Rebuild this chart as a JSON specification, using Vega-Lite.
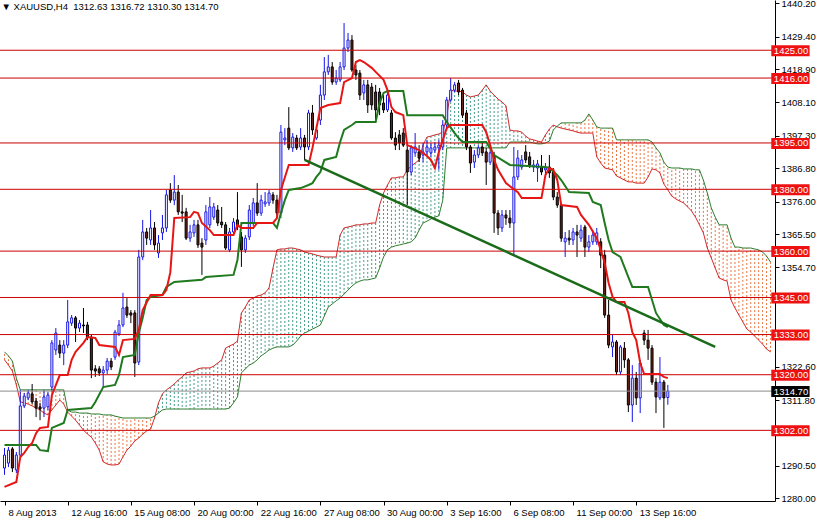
{
"$schema":"https://vega.github.io/schema/vega-lite/v6.json",
"width":775,"height":501,
"autosize":{"type":"none"},
"padding":{"left":0,"top":0,"right":41,"bottom":17},
"background":"white",
"title":{"text":"▼ XAUUSD,H4\u00a0\u00a01312.63 1316.72 1310.30 1314.70","anchor":"start","orient":"top","offset":-13,"fontSize":9.5,"fontWeight":"normal","font":"Liberation Sans","color":"#000000","dx":2},
"config":{"view":{"stroke":null},"axis":{"grid":false,"title":null,"labelFont":"Liberation Sans","labelFontSize":9.5,"labelColor":"#000000","tickColor":"#000000","domainColor":"#000000","tickSize":4}},
"datasets":{
"candles":[
{"i":0,"o":1289.8,"h":1296.3,"l":1287.6,"c":1294.0},{"i":1,"o":1291.4,"h":1296.6,"l":1290.1,"c":1295.6},{"i":2,"o":1296.0,"h":1296.6,"l":1288.5,"c":1289.8},{"i":3,"o":1289.2,"h":1295.0,"l":1288.2,"c":1294.0},{"i":4,"o":1294.0,"h":1315.1,"l":1293.4,"c":1309.9},{"i":5,"o":1309.9,"h":1314.1,"l":1309.2,"c":1313.1},{"i":6,"o":1312.5,"h":1315.1,"l":1311.8,"c":1314.1},{"i":7,"o":1313.8,"h":1317.0,"l":1310.5,"c":1311.2},{"i":8,"o":1311.5,"h":1312.5,"l":1306.3,"c":1309.2},{"i":9,"o":1309.6,"h":1310.9,"l":1305.3,"c":1308.9},
{"i":10,"o":1309.2,"h":1315.1,"l":1306.3,"c":1312.8},{"i":11,"o":1309.6,"h":1314.4,"l":1308.6,"c":1313.4},{"i":12,"o":1316.0,"h":1331.2,"l":1314.4,"c":1330.3},{"i":13,"o":1328.0,"h":1335.1,"l":1326.4,"c":1333.5},{"i":14,"o":1329.6,"h":1331.2,"l":1325.4,"c":1327.0},{"i":15,"o":1327.0,"h":1331.2,"l":1323.1,"c":1329.6},{"i":16,"o":1329.6,"h":1344.2,"l":1328.6,"c":1337.1},{"i":17,"o":1336.7,"h":1339.3,"l":1335.8,"c":1338.4},{"i":18,"o":1338.4,"h":1339.0,"l":1330.6,"c":1335.1},{"i":19,"o":1335.1,"h":1337.7,"l":1333.8,"c":1336.7},
{"i":20,"o":1336.1,"h":1341.6,"l":1333.5,"c":1335.8},{"i":21,"o":1336.1,"h":1337.1,"l":1331.2,"c":1332.2},{"i":22,"o":1332.2,"h":1332.9,"l":1318.9,"c":1321.5},{"i":23,"o":1321.9,"h":1323.1,"l":1319.3,"c":1321.2},{"i":24,"o":1321.9,"h":1322.8,"l":1319.6,"c":1320.6},{"i":25,"o":1320.6,"h":1322.8,"l":1316.0,"c":1321.5},{"i":26,"o":1321.5,"h":1325.4,"l":1320.2,"c":1324.4},{"i":27,"o":1324.4,"h":1325.4,"l":1321.5,"c":1322.5},{"i":28,"o":1325.7,"h":1334.5,"l":1324.8,"c":1333.8},{"i":29,"o":1333.2,"h":1337.7,"l":1332.5,"c":1336.1},
{"i":30,"o":1336.1,"h":1346.5,"l":1335.4,"c":1341.6},{"i":31,"o":1341.9,"h":1344.8,"l":1338.4,"c":1339.3},{"i":32,"o":1340.0,"h":1340.9,"l":1336.7,"c":1339.3},{"i":33,"o":1340.0,"h":1340.9,"l":1319.3,"c":1323.8},{"i":34,"o":1324.1,"h":1360.4,"l":1323.1,"c":1358.1},{"i":35,"o":1358.1,"h":1370.1,"l":1357.1,"c":1366.2},{"i":36,"o":1366.2,"h":1367.5,"l":1362.0,"c":1364.2},{"i":37,"o":1363.6,"h":1373.3,"l":1362.0,"c":1367.5},{"i":38,"o":1367.5,"h":1369.4,"l":1360.4,"c":1362.0},{"i":39,"o":1359.4,"h":1365.2,"l":1357.8,"c":1362.6},
{"i":40,"o":1365.9,"h":1371.7,"l":1363.6,"c":1367.5},{"i":41,"o":1367.5,"h":1379.8,"l":1366.2,"c":1378.2},{"i":42,"o":1379.8,"h":1382.0,"l":1375.6,"c":1376.5},{"i":43,"o":1376.5,"h":1384.6,"l":1374.9,"c":1379.1},{"i":44,"o":1379.1,"h":1381.4,"l":1371.7,"c":1372.7},{"i":45,"o":1372.7,"h":1378.2,"l":1369.4,"c":1372.3},{"i":46,"o":1372.7,"h":1374.0,"l":1363.6,"c":1364.2},{"i":47,"o":1364.2,"h":1368.5,"l":1363.0,"c":1366.2},{"i":48,"o":1365.9,"h":1370.1,"l":1364.6,"c":1368.5},{"i":49,"o":1368.5,"h":1370.1,"l":1361.0,"c":1362.0},
{"i":50,"o":1362.6,"h":1364.2,"l":1352.3,"c":1361.3},{"i":51,"o":1363.6,"h":1374.9,"l":1362.0,"c":1372.7},{"i":52,"o":1368.5,"h":1377.5,"l":1367.5,"c":1374.3},{"i":53,"o":1371.0,"h":1375.6,"l":1370.1,"c":1374.3},{"i":54,"o":1373.3,"h":1374.9,"l":1368.1,"c":1369.1},{"i":55,"o":1369.4,"h":1374.3,"l":1367.5,"c":1368.5},{"i":56,"o":1368.5,"h":1369.4,"l":1360.4,"c":1361.0},{"i":57,"o":1360.4,"h":1367.5,"l":1359.7,"c":1366.2},{"i":58,"o":1366.2,"h":1370.7,"l":1365.5,"c":1369.4},{"i":59,"o":1370.1,"h":1379.1,"l":1366.8,"c":1367.8},
{"i":60,"o":1364.6,"h":1366.2,"l":1354.9,"c":1360.4},{"i":61,"o":1360.4,"h":1365.2,"l":1359.4,"c":1364.2},{"i":62,"o":1364.6,"h":1374.9,"l":1363.6,"c":1373.3},{"i":63,"o":1369.1,"h":1377.2,"l":1368.1,"c":1375.6},{"i":64,"o":1375.6,"h":1382.0,"l":1371.4,"c":1372.3},{"i":65,"o":1372.3,"h":1378.2,"l":1371.4,"c":1376.5},{"i":66,"o":1375.3,"h":1379.1,"l":1374.3,"c":1375.9},{"i":67,"o":1375.6,"h":1379.8,"l":1374.6,"c":1378.8},{"i":68,"o":1378.2,"h":1379.1,"l":1375.3,"c":1376.5},{"i":69,"o":1376.5,"h":1378.2,"l":1370.7,"c":1372.3},
{"i":70,"o":1372.3,"h":1400.8,"l":1370.7,"c":1398.5},{"i":71,"o":1396.0,"h":1399.8,"l":1394.3,"c":1396.6},{"i":72,"o":1399.8,"h":1406.6,"l":1392.7,"c":1393.4},{"i":73,"o":1393.4,"h":1398.2,"l":1392.1,"c":1396.9},{"i":74,"o":1396.6,"h":1397.6,"l":1392.7,"c":1393.4},{"i":75,"o":1393.7,"h":1399.8,"l":1392.7,"c":1396.6},{"i":76,"o":1396.6,"h":1397.6,"l":1389.5,"c":1393.7},{"i":77,"o":1393.7,"h":1405.7,"l":1392.7,"c":1404.7},{"i":78,"o":1404.7,"h":1407.3,"l":1397.6,"c":1399.2},{"i":79,"o":1396.6,"h":1400.8,"l":1396.0,"c":1399.2},
{"i":80,"o":1402.4,"h":1413.8,"l":1400.8,"c":1410.5},{"i":81,"o":1410.5,"h":1422.8,"l":1408.9,"c":1418.0},{"i":82,"o":1418.0,"h":1423.5,"l":1417.0,"c":1419.6},{"i":83,"o":1419.6,"h":1421.2,"l":1413.8,"c":1414.7},{"i":84,"o":1414.7,"h":1418.6,"l":1413.8,"c":1416.0},{"i":85,"o":1415.4,"h":1421.2,"l":1414.7,"c":1419.6},{"i":86,"o":1419.6,"h":1433.8,"l":1418.6,"c":1425.7},{"i":87,"o":1425.7,"h":1430.6,"l":1424.4,"c":1428.3},{"i":88,"o":1428.3,"h":1429.9,"l":1418.0,"c":1418.6},{"i":89,"o":1418.6,"h":1420.2,"l":1415.4,"c":1417.0},
{"i":90,"o":1417.6,"h":1418.6,"l":1408.9,"c":1410.5},{"i":91,"o":1411.2,"h":1415.4,"l":1408.9,"c":1413.8},{"i":92,"o":1413.8,"h":1415.4,"l":1404.7,"c":1407.3},{"i":93,"o":1413.1,"h":1414.4,"l":1405.7,"c":1407.3},{"i":94,"o":1411.5,"h":1413.8,"l":1401.8,"c":1405.7},{"i":95,"o":1411.5,"h":1412.8,"l":1404.0,"c":1407.3},{"i":96,"o":1407.9,"h":1410.5,"l":1404.7,"c":1405.7},{"i":97,"o":1405.7,"h":1412.1,"l":1405.0,"c":1410.5},{"i":98,"o":1404.7,"h":1405.7,"l":1396.0,"c":1396.6},{"i":99,"o":1396.6,"h":1398.5,"l":1392.7,"c":1394.3},
{"i":100,"o":1397.6,"h":1399.2,"l":1392.7,"c":1395.0},{"i":101,"o":1398.2,"h":1399.8,"l":1393.7,"c":1394.3},{"i":102,"o":1392.7,"h":1394.3,"l":1374.9,"c":1385.6},{"i":103,"o":1385.6,"h":1394.3,"l":1384.6,"c":1393.4},{"i":104,"o":1391.8,"h":1398.2,"l":1390.5,"c":1393.7},{"i":105,"o":1392.1,"h":1394.3,"l":1388.8,"c":1390.1},{"i":106,"o":1391.1,"h":1395.0,"l":1388.8,"c":1392.1},{"i":107,"o":1392.1,"h":1396.0,"l":1391.1,"c":1393.7},{"i":108,"o":1391.8,"h":1395.0,"l":1390.5,"c":1393.4},{"i":109,"o":1392.7,"h":1395.3,"l":1391.8,"c":1393.7},
{"i":110,"o":1393.4,"h":1396.0,"l":1386.3,"c":1394.3},{"i":111,"o":1393.7,"h":1402.4,"l":1392.7,"c":1400.8},{"i":112,"o":1400.8,"h":1409.9,"l":1399.8,"c":1408.9},{"i":113,"o":1408.9,"h":1416.0,"l":1408.3,"c":1412.1},{"i":114,"o":1412.1,"h":1414.7,"l":1411.5,"c":1413.8},{"i":115,"o":1414.4,"h":1415.4,"l":1410.5,"c":1411.5},{"i":116,"o":1412.1,"h":1412.8,"l":1403.1,"c":1404.0},{"i":117,"o":1404.7,"h":1405.7,"l":1392.7,"c":1393.7},{"i":118,"o":1393.7,"h":1394.3,"l":1385.3,"c":1388.5},{"i":119,"o":1388.8,"h":1392.7,"l":1386.9,"c":1391.1},
{"i":120,"o":1391.1,"h":1394.3,"l":1390.1,"c":1393.4},{"i":121,"o":1393.7,"h":1395.0,"l":1390.8,"c":1391.8},{"i":122,"o":1392.1,"h":1393.4,"l":1381.4,"c":1388.8},{"i":123,"o":1388.8,"h":1392.7,"l":1387.9,"c":1391.8},{"i":124,"o":1391.1,"h":1392.1,"l":1365.9,"c":1372.3},{"i":125,"o":1372.3,"h":1373.3,"l":1365.2,"c":1367.5},{"i":126,"o":1367.5,"h":1373.3,"l":1366.2,"c":1371.7},{"i":127,"o":1371.7,"h":1373.3,"l":1368.5,"c":1370.7},{"i":128,"o":1370.7,"h":1373.3,"l":1367.5,"c":1369.1},{"i":129,"o":1369.1,"h":1393.7,"l":1358.7,"c":1384.0},
{"i":130,"o":1384.0,"h":1392.7,"l":1383.0,"c":1390.1},{"i":131,"o":1387.2,"h":1391.1,"l":1386.3,"c":1389.5},{"i":132,"o":1392.1,"h":1394.3,"l":1388.5,"c":1389.5},{"i":133,"o":1390.5,"h":1392.1,"l":1386.9,"c":1387.9},{"i":134,"o":1387.2,"h":1389.5,"l":1385.6,"c":1387.9},{"i":135,"o":1386.9,"h":1389.5,"l":1382.4,"c":1388.2},{"i":136,"o":1387.2,"h":1391.1,"l":1384.6,"c":1385.6},{"i":137,"o":1386.3,"h":1388.5,"l":1384.6,"c":1386.9},{"i":138,"o":1387.2,"h":1391.1,"l":1383.7,"c":1385.3},{"i":139,"o":1385.6,"h":1386.9,"l":1376.5,"c":1377.5},
{"i":140,"o":1377.5,"h":1379.1,"l":1374.0,"c":1374.9},{"i":141,"o":1374.9,"h":1375.6,"l":1363.0,"c":1364.2},{"i":142,"o":1363.0,"h":1366.2,"l":1358.1,"c":1364.2},{"i":143,"o":1364.2,"h":1366.8,"l":1362.0,"c":1363.6},{"i":144,"o":1363.6,"h":1367.5,"l":1362.0,"c":1366.2},{"i":145,"o":1366.2,"h":1368.5,"l":1358.1,"c":1365.2},{"i":146,"o":1364.2,"h":1368.5,"l":1363.0,"c":1366.8},{"i":147,"o":1367.8,"h":1368.5,"l":1358.1,"c":1361.3},{"i":148,"o":1361.3,"h":1365.2,"l":1359.7,"c":1363.0},{"i":149,"o":1363.0,"h":1366.8,"l":1362.0,"c":1365.2},
{"i":150,"o":1363.0,"h":1367.5,"l":1362.0,"c":1365.9},{"i":151,"o":1363.0,"h":1364.2,"l":1354.5,"c":1358.7},{"i":152,"o":1358.7,"h":1360.4,"l":1338.4,"c":1339.3},{"i":153,"o":1339.3,"h":1344.2,"l":1328.6,"c":1329.6},{"i":154,"o":1329.0,"h":1332.9,"l":1325.7,"c":1330.6},{"i":155,"o":1330.6,"h":1331.2,"l":1319.9,"c":1320.9},{"i":156,"o":1320.9,"h":1329.6,"l":1319.9,"c":1329.0},{"i":157,"o":1328.6,"h":1330.6,"l":1322.2,"c":1324.8},{"i":158,"o":1324.8,"h":1325.4,"l":1307.9,"c":1310.2},{"i":159,"o":1310.2,"h":1323.1,"l":1304.7,"c":1318.9},
{"i":160,"o":1318.9,"h":1320.9,"l":1310.2,"c":1312.5},{"i":161,"o":1312.5,"h":1324.8,"l":1307.6,"c":1323.8},{"i":162,"o":1333.5,"h":1334.5,"l":1329.6,"c":1331.2},{"i":163,"o":1331.2,"h":1334.5,"l":1324.8,"c":1328.6},{"i":164,"o":1328.6,"h":1329.6,"l":1316.7,"c":1317.6},{"i":165,"o":1317.6,"h":1318.9,"l":1307.6,"c":1312.8},{"i":166,"o":1312.5,"h":1325.7,"l":1311.8,"c":1317.6},{"i":167,"o":1317.6,"h":1318.3,"l":1302.8,"c":1312.5},{"i":168,"o":1312.63,"h":1316.72,"l":1310.3,"c":1314.7}
],
"cloud":[
{"i":0,"a":1324.8,"b":1327.4},{"i":1,"a":1323.1,"b":1326.1},{"i":2,"a":1321.2,"b":1324.4},{"i":3,"a":1316.7,"b":1318.9},{"i":4,"a":1311.2,"b":1315.1},{"i":5,"a":1310.9,"b":1315.1},{"i":6,"a":1310.5,"b":1315.1},{"i":7,"a":1309.9,"b":1315.1},{"i":8,"a":1309.2,"b":1315.1},{"i":9,"a":1308.6,"b":1315.1},
{"i":10,"a":1307.6,"b":1315.1},{"i":11,"a":1307.0,"b":1315.1},{"i":12,"a":1308.6,"b":1315.1},{"i":13,"a":1310.2,"b":1315.1},{"i":14,"a":1311.8,"b":1315.1},{"i":15,"a":1310.5,"b":1315.1},{"i":16,"a":1307.9,"b":1308.6},{"i":17,"a":1306.6,"b":1307.9},{"i":18,"a":1305.3,"b":1307.9},{"i":19,"a":1303.7,"b":1307.6},
{"i":20,"a":1302.1,"b":1307.6},{"i":21,"a":1300.8,"b":1307.6},{"i":22,"a":1299.8,"b":1307.3},{"i":23,"a":1297.9,"b":1307.3},{"i":24,"a":1295.6,"b":1307.3},{"i":25,"a":1291.8,"b":1307.0},{"i":26,"a":1291.1,"b":1307.0},{"i":27,"a":1290.8,"b":1307.0},{"i":28,"a":1290.8,"b":1306.6},{"i":29,"a":1291.1,"b":1306.3},
{"i":30,"a":1293.4,"b":1306.0},{"i":31,"a":1295.6,"b":1306.0},{"i":32,"a":1296.9,"b":1306.0},{"i":33,"a":1298.6,"b":1306.0},{"i":34,"a":1299.5,"b":1306.0},{"i":35,"a":1300.8,"b":1306.0},{"i":36,"a":1301.8,"b":1306.0},{"i":37,"a":1302.4,"b":1306.0},{"i":38,"a":1306.0,"b":1306.6},{"i":39,"a":1310.9,"b":1307.6},
{"i":40,"a":1313.8,"b":1308.6},{"i":41,"a":1315.1,"b":1308.9},{"i":42,"a":1316.0,"b":1308.9},{"i":43,"a":1317.0,"b":1308.9},{"i":44,"a":1318.3,"b":1308.9},{"i":45,"a":1319.3,"b":1308.9},{"i":46,"a":1320.6,"b":1308.9},{"i":47,"a":1320.9,"b":1308.9},{"i":48,"a":1321.2,"b":1308.9},{"i":49,"a":1321.9,"b":1308.9},
{"i":50,"a":1322.2,"b":1308.9},{"i":51,"a":1322.2,"b":1308.9},{"i":52,"a":1322.2,"b":1308.9},{"i":53,"a":1322.8,"b":1308.9},{"i":54,"a":1323.8,"b":1308.9},{"i":55,"a":1324.8,"b":1308.9},{"i":56,"a":1328.6,"b":1308.9},{"i":57,"a":1329.3,"b":1309.2},{"i":58,"a":1329.9,"b":1310.9},{"i":59,"a":1330.9,"b":1312.8},
{"i":60,"a":1340.0,"b":1320.6},{"i":61,"a":1341.9,"b":1321.9},{"i":62,"a":1344.2,"b":1323.1},{"i":63,"a":1344.8,"b":1323.8},{"i":64,"a":1345.5,"b":1324.8},{"i":65,"a":1345.8,"b":1326.1},{"i":66,"a":1346.5,"b":1327.0},{"i":67,"a":1348.1,"b":1328.0},{"i":68,"a":1354.5,"b":1328.6},{"i":69,"a":1360.4,"b":1329.0},
{"i":70,"a":1360.7,"b":1329.0},{"i":71,"a":1360.7,"b":1329.0},{"i":72,"a":1361.0,"b":1329.0},{"i":73,"a":1361.0,"b":1329.6},{"i":74,"a":1360.7,"b":1330.9},{"i":75,"a":1360.4,"b":1332.5},{"i":76,"a":1359.7,"b":1333.5},{"i":77,"a":1359.4,"b":1334.1},{"i":78,"a":1359.1,"b":1334.8},{"i":79,"a":1358.7,"b":1335.4},
{"i":80,"a":1358.4,"b":1336.1},{"i":81,"a":1358.1,"b":1339.0},{"i":82,"a":1358.1,"b":1341.9},{"i":83,"a":1358.1,"b":1342.9},{"i":84,"a":1358.1,"b":1343.9},{"i":85,"a":1365.2,"b":1344.8},{"i":86,"a":1367.5,"b":1346.1},{"i":87,"a":1367.8,"b":1347.4},{"i":88,"a":1368.1,"b":1348.7},{"i":89,"a":1368.5,"b":1349.7},
{"i":90,"a":1368.5,"b":1350.3},{"i":91,"a":1368.8,"b":1350.7},{"i":92,"a":1368.8,"b":1350.7},{"i":93,"a":1369.1,"b":1351.0},{"i":94,"a":1369.1,"b":1351.3},{"i":95,"a":1374.9,"b":1354.5},{"i":96,"a":1378.8,"b":1358.1},{"i":97,"a":1381.4,"b":1360.4},{"i":98,"a":1383.7,"b":1361.3},{"i":99,"a":1383.7,"b":1361.7},
{"i":100,"a":1384.0,"b":1362.0},{"i":101,"a":1384.0,"b":1362.3},{"i":102,"a":1386.3,"b":1362.6},{"i":103,"a":1387.5,"b":1363.0},{"i":104,"a":1388.5,"b":1364.2},{"i":105,"a":1389.5,"b":1366.8},{"i":106,"a":1394.3,"b":1369.1},{"i":107,"a":1396.9,"b":1369.7},{"i":108,"a":1397.2,"b":1370.4},{"i":109,"a":1397.6,"b":1371.0},
{"i":110,"a":1397.9,"b":1371.4},{"i":111,"a":1398.5,"b":1376.5},{"i":112,"a":1403.4,"b":1393.4},{"i":113,"a":1412.1,"b":1393.4},{"i":114,"a":1411.8,"b":1393.4},{"i":115,"a":1411.8,"b":1393.4},{"i":116,"a":1411.5,"b":1393.4},{"i":117,"a":1410.5,"b":1393.4},{"i":118,"a":1409.9,"b":1393.4},{"i":119,"a":1410.2,"b":1393.4},
{"i":120,"a":1410.5,"b":1393.4},{"i":121,"a":1412.1,"b":1393.4},{"i":122,"a":1413.8,"b":1393.4},{"i":123,"a":1411.8,"b":1393.4},{"i":124,"a":1410.5,"b":1393.4},{"i":125,"a":1409.2,"b":1393.4},{"i":126,"a":1408.3,"b":1393.4},{"i":127,"a":1407.0,"b":1393.4},{"i":128,"a":1399.2,"b":1395.3},{"i":129,"a":1398.9,"b":1395.3},
{"i":130,"a":1398.9,"b":1395.3},{"i":131,"a":1398.5,"b":1395.3},{"i":132,"a":1397.2,"b":1395.3},{"i":133,"a":1396.3,"b":1395.3},{"i":134,"a":1396.0,"b":1395.0},{"i":135,"a":1395.6,"b":1394.7},{"i":136,"a":1395.3,"b":1394.7},{"i":137,"a":1397.6,"b":1395.0},{"i":138,"a":1399.5,"b":1395.6},{"i":139,"a":1400.8,"b":1399.2},
{"i":140,"a":1400.2,"b":1400.5},{"i":141,"a":1399.8,"b":1401.5},{"i":142,"a":1399.5,"b":1401.5},{"i":143,"a":1399.2,"b":1401.5},{"i":144,"a":1398.9,"b":1401.5},{"i":145,"a":1398.5,"b":1401.5},{"i":146,"a":1398.2,"b":1401.5},{"i":147,"a":1398.2,"b":1402.4},{"i":148,"a":1398.2,"b":1404.4},{"i":149,"a":1398.2,"b":1402.4},
{"i":150,"a":1390.5,"b":1400.2},{"i":151,"a":1388.5,"b":1399.8},{"i":152,"a":1386.9,"b":1399.8},{"i":153,"a":1386.6,"b":1399.8},{"i":154,"a":1386.3,"b":1399.8},{"i":155,"a":1384.3,"b":1396.0},{"i":156,"a":1383.7,"b":1396.0},{"i":157,"a":1383.0,"b":1396.0},{"i":158,"a":1382.4,"b":1396.0},{"i":159,"a":1382.4,"b":1396.0},
{"i":160,"a":1382.0,"b":1396.0},{"i":161,"a":1382.0,"b":1396.0},{"i":162,"a":1382.0,"b":1396.0},{"i":163,"a":1384.0,"b":1396.0},{"i":164,"a":1386.6,"b":1395.3},{"i":165,"a":1386.3,"b":1393.4},{"i":166,"a":1385.3,"b":1391.8},{"i":167,"a":1381.7,"b":1388.8},{"i":168,"a":1379.8,"b":1387.2},{"i":169,"a":1377.8,"b":1386.9},
{"i":170,"a":1376.9,"b":1386.9},{"i":171,"a":1376.2,"b":1386.9},{"i":172,"a":1375.6,"b":1386.6},{"i":173,"a":1374.3,"b":1386.6},{"i":174,"a":1373.0,"b":1386.6},{"i":175,"a":1371.0,"b":1386.3},{"i":176,"a":1368.5,"b":1386.3},{"i":177,"a":1365.9,"b":1383.0},{"i":178,"a":1361.0,"b":1378.8},{"i":179,"a":1357.8,"b":1374.0},
{"i":180,"a":1354.5,"b":1371.0},{"i":181,"a":1351.3,"b":1368.5},{"i":182,"a":1350.7,"b":1368.5},{"i":183,"a":1350.3,"b":1368.5},{"i":184,"a":1344.2,"b":1364.2},{"i":185,"a":1341.6,"b":1361.3},{"i":186,"a":1339.3,"b":1361.3},{"i":187,"a":1337.1,"b":1361.0},{"i":188,"a":1334.8,"b":1361.0},{"i":189,"a":1333.8,"b":1361.0},
{"i":190,"a":1332.5,"b":1360.7},{"i":191,"a":1331.2,"b":1360.4},{"i":192,"a":1329.9,"b":1359.7},{"i":193,"a":1328.3,"b":1358.4},{"i":194,"a":1327.4,"b":1356.5}
],
"tenkan":[
{"i":0,"p":1283.7},{"i":3,"p":1285.3},{"i":4,"p":1293.4},{"i":5,"p":1294.7},{"i":6,"p":1296.6},{"i":7,"p":1297.9},{"i":8,"p":1301.1},{"i":9,"p":1302.8},{"i":11,"p":1303.1},{"i":12,"p":1313.4},{"i":14,"p":1319.9},{"i":16,"p":1319.9},{"i":17,"p":1324.8},{"i":18,"p":1327.4},{"i":20,"p":1330.3},{"i":21,"p":1332.2},{"i":23,"p":1331.9},{"i":24,"p":1329.6},{"i":28,"p":1329.0},{"i":29,"p":1326.4},{"i":30,"p":1331.2},{"i":33,"p":1331.6},{"i":34,"p":1334.5},{"i":35,"p":1340.9},{"i":37,"p":1345.8},{"i":40,"p":1345.8},{"i":41,"p":1347.4},{"i":42,"p":1353.2},{"i":43,"p":1370.7},{"i":47,"p":1371.0},{"i":48,"p":1372.7},{"i":49,"p":1372.3},{"i":50,"p":1369.1},{"i":52,"p":1366.8},{"i":53,"p":1365.2},{"i":58,"p":1365.2},{"i":59,"p":1368.5},{"i":60,"p":1367.5},{"i":63,"p":1367.5},{"i":64,"p":1369.1},{"i":68,"p":1369.1},{"i":69,"p":1370.7},{"i":70,"p":1379.8},{"i":72,"p":1387.9},{"i":77,"p":1387.9},{"i":78,"p":1393.4},{"i":79,"p":1399.8},{"i":80,"p":1406.3},{"i":82,"p":1407.3},{"i":85,"p":1407.9},{"i":86,"p":1414.7},{"i":88,"p":1416.0},{"i":89,"p":1421.2},{"i":90,"p":1421.8},{"i":91,"p":1421.2},{"i":93,"p":1419.3},{"i":94,"p":1418.0},{"i":96,"p":1415.4},{"i":97,"p":1412.1},{"i":98,"p":1406.6},{"i":99,"p":1405.0},{"i":101,"p":1404.0},{"i":102,"p":1394.3},{"i":105,"p":1392.7},{"i":107,"p":1390.8},{"i":108,"p":1389.5},{"i":109,"p":1386.9},{"i":110,"p":1392.1},{"i":111,"p":1395.9},{"i":112,"p":1399.8},{"i":113,"p":1400.8},{"i":121,"p":1400.8},{"i":122,"p":1398.5},{"i":123,"p":1394.3},{"i":124,"p":1389.5},{"i":125,"p":1386.3},{"i":127,"p":1382.0},{"i":130,"p":1379.1},{"i":131,"p":1377.2},{"i":136,"p":1377.2},{"i":137,"p":1384.6},{"i":138,"p":1386.9},{"i":139,"p":1386.3},{"i":140,"p":1383.0},{"i":141,"p":1374.9},{"i":145,"p":1374.3},{"i":146,"p":1371.7},{"i":148,"p":1368.5},{"i":150,"p":1364.2},{"i":151,"p":1360.4},{"i":152,"p":1356.2},{"i":153,"p":1349.7},{"i":154,"p":1345.2},{"i":155,"p":1343.5},{"i":157,"p":1343.5},{"i":158,"p":1340.0},{"i":159,"p":1333.8},{"i":160,"p":1331.2},{"i":161,"p":1323.8},{"i":162,"p":1320.2},{"i":166,"p":1320.2},{"i":167,"p":1319.3},{"i":168,"p":1318.9}
],
"kijun":[
{"i":0,"p":1297.3},{"i":8,"p":1297.3},{"i":9,"p":1295.6},{"i":11,"p":1295.3},{"i":12,"p":1302.8},{"i":15,"p":1304.4},{"i":16,"p":1308.6},{"i":22,"p":1309.2},{"i":23,"p":1311.2},{"i":25,"p":1316.0},{"i":28,"p":1316.7},{"i":29,"p":1319.9},{"i":30,"p":1325.7},{"i":33,"p":1326.4},{"i":34,"p":1333.5},{"i":35,"p":1338.4},{"i":36,"p":1344.2},{"i":37,"p":1345.2},{"i":40,"p":1345.8},{"i":41,"p":1348.4},{"i":43,"p":1350.0},{"i":50,"p":1350.7},{"i":51,"p":1351.6},{"i":58,"p":1352.3},{"i":59,"p":1357.1},{"i":60,"p":1369.1},{"i":68,"p":1369.1},{"i":69,"p":1367.5},{"i":70,"p":1372.3},{"i":71,"p":1376.5},{"i":72,"p":1379.8},{"i":75,"p":1380.4},{"i":77,"p":1381.4},{"i":78,"p":1382.0},{"i":79,"p":1384.0},{"i":80,"p":1385.6},{"i":81,"p":1389.5},{"i":84,"p":1390.5},{"i":85,"p":1395.3},{"i":86,"p":1399.2},{"i":88,"p":1400.8},{"i":89,"p":1401.8},{"i":94,"p":1401.8},{"i":95,"p":1407.9},{"i":96,"p":1411.2},{"i":97,"p":1411.8},{"i":101,"p":1411.8},{"i":102,"p":1404.0},{"i":111,"p":1404.0},{"i":112,"p":1401.8},{"i":114,"p":1398.2},{"i":115,"p":1396.6},{"i":116,"p":1395.3},{"i":122,"p":1395.3},{"i":124,"p":1391.1},{"i":128,"p":1387.9},{"i":137,"p":1387.2},{"i":138,"p":1386.9},{"i":140,"p":1384.6},{"i":141,"p":1383.0},{"i":143,"p":1379.1},{"i":148,"p":1378.8},{"i":149,"p":1375.9},{"i":151,"p":1374.9},{"i":152,"p":1369.1},{"i":153,"p":1363.6},{"i":154,"p":1359.7},{"i":156,"p":1358.1},{"i":158,"p":1351.6},{"i":159,"p":1348.4},{"i":163,"p":1348.4},{"i":164,"p":1344.2},{"i":165,"p":1340.0},{"i":167,"p":1336.1},{"i":168,"p":1335.4}
],
"trend":[{"i":76,"p":1389.5},{"i":180,"p":1329.0}],
"levels":[{"p":1425},{"p":1416},{"p":1395},{"p":1380},{"p":1360},{"p":1345},{"p":1333},{"p":1320},{"p":1302}],
"bid":[{"p":1314.7}]
},
"layer":[
{"data":{"name":"cloud"},
 "mark":{"type":"rule","strokeDash":[2,2],"strokeWidth":1},
 "encoding":{
  "x":{"field":"i","type":"quantitative","scale":{"domain":[0.125,193.875],"nice":false,"zero":false},
   "axis":{"orient":"bottom","values":[0.125,16,32,48,64,80,96,112,128,144,160],"labelExpr":"datum.value < 1 ? '8 Aug 2013' : datum.value == 16 ? '12 Aug 16:00' : datum.value == 32 ? '15 Aug 08:00' : datum.value == 48 ? '20 Aug 00:00' : datum.value == 64 ? '22 Aug 16:00' : datum.value == 80 ? '27 Aug 08:00' : datum.value == 96 ? '30 Aug 00:00' : datum.value == 112 ? '3 Sep 16:00' : datum.value == 128 ? '6 Sep 08:00' : datum.value == 144 ? '11 Sep 00:00' : '13 Sep 16:00'","labelAlign":"left","labelBaseline":"top","labelOffset":3,"labelPadding":2,"labelOverlap":false,"labelFlush":false,"labelBound":false}},
  "y":{"field":"a","type":"quantitative","scale":{"domain":[1279.14,1441.26],"nice":false,"zero":false},
   "axis":{"orient":"right","values":[1280,1290.5,1311.8,1322.6,1354.7,1365.5,1376,1386.8,1397.3,1408.1,1418.9,1429.4,1440.2],"format":".2f","labelAlign":"left","labelBaseline":"middle","labelPadding":2,"labelOverlap":false,"labelBound":false}},
  "y2":{"field":"b"},
  "stroke":{"condition":{"test":"datum.a >= datum.b","value":"#3f9a86"},"value":"#e8733f"}}},
{"data":{"name":"cloud"},
 "mark":{"type":"line","stroke":"#d42a2a","strokeWidth":1},
 "encoding":{"x":{"field":"i","type":"quantitative","scale":{"domain":[0.125,193.875],"nice":false,"zero":false}},
  "y":{"field":"a","type":"quantitative","scale":{"domain":[1279.14,1441.26],"nice":false,"zero":false}}}},
{"data":{"name":"cloud"},
 "mark":{"type":"line","stroke":"#2e7d2e","strokeWidth":1},
 "encoding":{"x":{"field":"i","type":"quantitative","scale":{"domain":[0.125,193.875],"nice":false,"zero":false}},
  "y":{"field":"b","type":"quantitative","scale":{"domain":[1279.14,1441.26],"nice":false,"zero":false}}}},
{"data":{"name":"candles"},
 "mark":{"type":"rule","strokeWidth":1},
 "encoding":{"x":{"field":"i","type":"quantitative","scale":{"domain":[0.125,193.875],"nice":false,"zero":false}},
  "y":{"field":"l","type":"quantitative","scale":{"domain":[1279.14,1441.26],"nice":false,"zero":false}},
  "y2":{"field":"h"},
  "stroke":{"condition":{"test":"datum.c >= datum.o","value":"#1515e6"},"value":"#000000"}}},
{"data":{"name":"candles"},
 "mark":{"type":"bar","size":2,"strokeWidth":1,"orient":"vertical"},
 "encoding":{"x":{"field":"i","type":"quantitative","scale":{"domain":[0.125,193.875],"nice":false,"zero":false}},
  "y":{"field":"o","type":"quantitative","scale":{"domain":[1279.14,1441.26],"nice":false,"zero":false}},
  "y2":{"field":"c"},
  "fill":{"condition":{"test":"datum.c >= datum.o","value":"#ffffff"},"value":"#6e2418"},
  "stroke":{"condition":{"test":"datum.c >= datum.o","value":"#1515e6"},"value":"#000000"}}},
{"data":{"name":"levels"},
 "mark":{"type":"rule","stroke":"#cc0000","strokeWidth":1},
 "encoding":{"y":{"field":"p","type":"quantitative","scale":{"domain":[1279.14,1441.26],"nice":false,"zero":false}}}},
{"data":{"name":"bid"},
 "mark":{"type":"rule","stroke":"#8c8c8c","strokeWidth":1},
 "encoding":{"y":{"field":"p","type":"quantitative","scale":{"domain":[1279.14,1441.26],"nice":false,"zero":false}}}},
{"data":{"name":"kijun"},
 "mark":{"type":"line","stroke":"#1f7a1f","strokeWidth":2},
 "encoding":{"x":{"field":"i","type":"quantitative","scale":{"domain":[0.125,193.875],"nice":false,"zero":false}},
  "y":{"field":"p","type":"quantitative","scale":{"domain":[1279.14,1441.26],"nice":false,"zero":false}}}},
{"data":{"name":"tenkan"},
 "mark":{"type":"line","stroke":"#e81515","strokeWidth":2},
 "encoding":{"x":{"field":"i","type":"quantitative","scale":{"domain":[0.125,193.875],"nice":false,"zero":false}},
  "y":{"field":"p","type":"quantitative","scale":{"domain":[1279.14,1441.26],"nice":false,"zero":false}}}},
{"data":{"name":"trend"},
 "mark":{"type":"line","stroke":"#1a6b1a","strokeWidth":2.5},
 "encoding":{"x":{"field":"i","type":"quantitative","scale":{"domain":[0.125,193.875],"nice":false,"zero":false}},
  "y":{"field":"p","type":"quantitative","scale":{"domain":[1279.14,1441.26],"nice":false,"zero":false}}}},
{"data":{"name":"levels"},
 "mark":{"type":"rect","fill":"#ee1111","yOffset":-5,"y2Offset":6},
 "encoding":{"x":{"datum":194.2,"type":"quantitative","scale":{"domain":[0.125,193.875],"nice":false,"zero":false}},"x2":{"datum":203.9},
  "y":{"field":"p","type":"quantitative","scale":{"domain":[1279.14,1441.26],"nice":false,"zero":false}},"y2":{"field":"p"}}},
{"data":{"name":"bid"},
 "mark":{"type":"rect","fill":"#000000","yOffset":-5,"y2Offset":6},
 "encoding":{"x":{"datum":194.2,"type":"quantitative","scale":{"domain":[0.125,193.875],"nice":false,"zero":false}},"x2":{"datum":203.9},
  "y":{"field":"p","type":"quantitative","scale":{"domain":[1279.14,1441.26],"nice":false,"zero":false}},"y2":{"field":"p"}}},
{"data":{"name":"levels"},
 "mark":{"type":"text","align":"left","baseline":"middle","fill":"#ffffff","fontSize":9.5,"font":"Liberation Sans","dy":0.5},
 "encoding":{"x":{"datum":194.85,"type":"quantitative","scale":{"domain":[0.125,193.875],"nice":false,"zero":false}},
  "y":{"field":"p","type":"quantitative","scale":{"domain":[1279.14,1441.26],"nice":false,"zero":false}},
  "text":{"field":"p","type":"quantitative","format":".2f"}}},
{"data":{"name":"bid"},
 "mark":{"type":"text","align":"left","baseline":"middle","fill":"#ffffff","fontSize":9.5,"font":"Liberation Sans","dy":0.5},
 "encoding":{"x":{"datum":194.85,"type":"quantitative","scale":{"domain":[0.125,193.875],"nice":false,"zero":false}},
  "y":{"field":"p","type":"quantitative","scale":{"domain":[1279.14,1441.26],"nice":false,"zero":false}},
  "text":{"field":"p","type":"quantitative","format":".2f"}}}
]
}
